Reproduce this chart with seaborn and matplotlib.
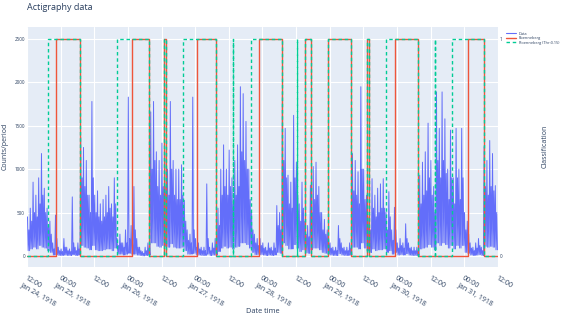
import matplotlib
matplotlib.use("Agg")
import numpy as np
import pandas as pd
import seaborn as sns
import matplotlib.pyplot as plt
from matplotlib.lines import Line2D

# ---------------- data ----------------
START = "1918-01-24 12:00"
END = "1918-01-31 12:00"

# hourly activity readings (counts per period), hour 0 = Jan 24 12:00
# main peak of each hour
activity_peaks = [
    450, 550, 850, 700, 900, 1180, 780, 550, 400, 150,
    470, 100, 80, 200, 100, 80, 680, 100, 150, 1370,
    1250, 1100, 700, 1780, 700, 750, 600, 650, 700, 800,
    600, 900, 200, 250, 150, 300, 1830, 350, 800, 200,
    100, 50, 100, 150, 1660, 1780, 1200, 1100, 1300, 1200,
    1000, 1780, 1100, 1000, 1000, 1050, 640, 300, 250, 1830,
    200, 150, 100, 100, 830, 100, 150, 200, 550, 1000,
    1280, 1000, 1220, 900, 1100, 1280, 1950, 1870, 1550, 1000,
    500, 250, 200, 200, 150, 100, 150, 100, 150, 580,
    500, 1890, 1470, 930, 850, 1620, 1080, 600, 850, 400,
    350, 815, 1030, 1080, 800, 500, 420, 300, 150, 100,
    100, 350, 150, 100, 100, 150, 1180, 1100, 970, 1950,
    1000, 700, 450, 890, 700, 780, 830, 890, 500, 740,
    300, 560, 150, 200, 150, 370, 150, 100, 100, 100,
    930, 1080, 1200, 1530, 1100, 800, 1890, 1470, 1890, 1580,
    1000, 1450, 900, 1470, 1000, 1470, 500, 400, 150, 100,
    150, 200, 100, 1260, 1100, 1330, 1180, 810,
]
# secondary peak of each hour
activity_second = [
    300, 400, 500, 450, 600, 700, 500, 350, 250, 80,
    200, 60, 50, 100, 60, 50, 150, 60, 80, 900,
    800, 700, 500, 900, 500, 450, 400, 450, 500, 550,
    450, 600, 120, 150, 100, 150, 200, 150, 300, 100,
    60, 30, 60, 90, 1000, 1100, 800, 700, 800, 800,
    700, 1000, 700, 650, 650, 700, 400, 180, 150, 300,
    100, 80, 60, 60, 200, 60, 90, 120, 350, 700,
    800, 700, 800, 600, 700, 800, 1200, 1100, 1000, 650,
    300, 150, 120, 120, 90, 60, 90, 60, 90, 350,
    300, 1100, 900, 600, 550, 900, 700, 400, 550, 250,
    220, 500, 650, 700, 500, 300, 250, 180, 90, 60,
    60, 200, 90, 60, 60, 90, 750, 700, 600, 1000,
    650, 450, 300, 550, 450, 500, 550, 550, 300, 450,
    180, 300, 90, 120, 90, 200, 90, 60, 60, 60,
    600, 700, 750, 900, 700, 500, 1100, 900, 1100, 950,
    650, 900, 600, 900, 650, 900, 300, 250, 90, 60,
    90, 120, 60, 800, 700, 800, 750, 500,
]
# troughs of each hour
activity_lows = [
    60, 80, 100, 80, 120, 100, 90, 60, 40, 10,
    15, 5, 5, 10, 5, 5, 15, 5, 10, 120,
    100, 90, 70, 120, 70, 60, 60, 70, 80, 80,
    60, 90, 20, 20, 10, 20, 30, 20, 20, 10,
    5, 0, 5, 10, 150, 150, 110, 100, 120, 110,
    100, 140, 100, 90, 90, 100, 60, 20, 20, 30,
    10, 10, 5, 5, 20, 5, 10, 10, 50, 90,
    110, 90, 100, 80, 100, 110, 150, 150, 130, 90,
    40, 15, 15, 15, 10, 5, 10, 5, 10, 40,
    30, 150, 120, 80, 80, 130, 90, 50, 70, 35,
    30, 70, 90, 90, 70, 40, 30, 20, 10, 5,
    5, 25, 10, 5, 5, 10, 100, 100, 80, 150,
    90, 60, 40, 80, 60, 70, 70, 80, 40, 60,
    20, 40, 10, 15, 10, 25, 10, 5, 5, 5,
    80, 90, 100, 130, 100, 70, 150, 120, 150, 130,
    90, 120, 80, 120, 90, 120, 40, 30, 10, 5,
    10, 15, 5, 110, 100, 110, 100, 70,
]

# sleep periods (classification = 1)
roenneberg_start = ["1918-01-24 22:22", "1918-01-26 01:24", "1918-01-26 12:54",
                    "1918-01-27 00:36", "1918-01-27 22:36", "1918-01-28 15:18",
                    "1918-01-28 23:30", "1918-01-29 13:12", "1918-01-29 23:24",
                    "1918-01-31 01:15"]
roenneberg_end = ["1918-01-25 07:00", "1918-01-26 07:36", "1918-01-26 13:45",
                  "1918-01-27 07:36", "1918-01-28 07:00", "1918-01-28 17:18",
                  "1918-01-29 07:42", "1918-01-29 14:06", "1918-01-30 07:30",
                  "1918-01-31 07:00"]
thr_start = ["1918-01-24 19:36", "1918-01-25 20:06", "1918-01-26 12:54",
             "1918-01-26 19:30", "1918-01-27 13:30", "1918-01-27 20:00",
             "1918-01-28 12:18", "1918-01-28 15:18", "1918-01-28 23:30",
             "1918-01-29 13:12", "1918-01-29 20:06", "1918-01-30 13:30",
             "1918-01-30 19:42"]
thr_end = ["1918-01-25 07:00", "1918-01-26 07:36", "1918-01-26 13:45",
           "1918-01-27 07:36", "1918-01-27 13:36", "1918-01-28 07:00",
           "1918-01-28 12:24", "1918-01-28 17:18", "1918-01-29 07:42",
           "1918-01-29 14:06", "1918-01-30 07:30", "1918-01-30 13:36",
           "1918-01-31 07:00"]

series_names = ["Data", "Roenneberg", "Roenneberg (Thr:0.15)"]

# ---------------- build tables ----------------
base = pd.Timestamp(START)
hrs = np.arange(len(activity_peaks))


def at(offset):
    return base + pd.to_timedelta(hrs + offset, unit="h")


df_act = pd.DataFrame({
    "time": np.concatenate([at(0.125), at(0.375), at(0.625), at(0.875)]),
    "count": np.concatenate([activity_peaks, activity_lows,
                             activity_second, activity_lows]),
}).sort_values("time")


def step_table(starts, ends):
    t = [pd.Timestamp(START) + pd.Timedelta(minutes=5)]
    v = [0]
    for s, e in zip(starts, ends):
        t += [pd.Timestamp(s), pd.Timestamp(e)]
        v += [1, 0]
    t.append(pd.Timestamp(END) - pd.Timedelta(minutes=5))
    v.append(0)
    return pd.DataFrame({"time": t, "cls": v})


df_r = step_table(roenneberg_start, roenneberg_end)
df_t = step_table(thr_start, thr_end)

# ---------------- style ----------------
sns.set_theme(style="darkgrid")
plt.rcParams["font.family"] = ["Open Sans", "DejaVu Sans"]
TXT = "#2a3f5f"

fig = plt.figure(figsize=(5.65, 3.14), dpi=100)
ax = fig.add_axes([0.048, 0.150, 0.833, 0.765])
ax.set_facecolor("#E5ECF6")
for s in ax.spines.values():
    s.set_visible(False)

sns.lineplot(data=df_act, x="time", y="count", ax=ax, color="#636EFA",
             lw=0.7, estimator=None, legend=False, zorder=2)

ax.set_ylim(-127, 2642)
ax.set_xlim(pd.Timestamp(START), pd.Timestamp(END))
ax.set_yticks([0, 500, 1000, 1500, 2000, 2500])
ax.set_yticklabels(["0", "500", "1000", "1500", "2000", "2500"])
ax.grid(True, color="white", lw=0.8)
ax.tick_params(axis="y", labelsize=3.3, colors=TXT, pad=1.5, length=0)

ticks = pd.date_range(START, END, freq="12h")
labels = []
for i, t in enumerate(ticks):
    if i == 0 or t.hour == 0:
        labels.append(t.strftime("%H:%M") + "\n" + t.strftime("%b %d, %Y").replace(" 0", " "))
    else:
        labels.append(t.strftime("%H:%M"))
ax.set_xticks(ticks)
ax.set_xticklabels(labels, rotation=-30, ha="left", va="top",
                   rotation_mode="anchor", fontsize=5, color=TXT,
                   multialignment="left")
ax.tick_params(axis="x", length=2.5, width=0.8, color="#EF553B", pad=3)
ax.set_xlabel("Date time", fontsize=5.3, color=TXT, labelpad=0)
ax.set_ylabel("Counts/period", fontsize=5, color=TXT, labelpad=4)

ax2 = ax.twinx()
for s in ax2.spines.values():
    s.set_visible(False)
sns.lineplot(data=df_r, x="time", y="cls", ax=ax2, color="#EF553B", lw=1.0,
             drawstyle="steps-post", estimator=None, legend=False)
sns.lineplot(data=df_t, x="time", y="cls", ax=ax2, color="#00CC96", lw=1.0,
             drawstyle="steps-post", estimator=None, legend=False,
             dashes=False, linestyle=(0, (2.5, 2)))
ax2.set_ylim(-0.0508, 1.0568)
ax2.set_yticks([0, 1])
ax2.set_yticklabels(["0", "1"])
ax2.grid(False)
ax2.tick_params(axis="y", labelsize=3.3, colors=TXT, pad=1.5, length=0)
ax2.set_ylabel("Classification", fontsize=5, color=TXT, labelpad=28)
ax2.set_xlim(pd.Timestamp(START), pd.Timestamp(END))

fig.text(0.048, 0.977, "Actigraphy data", fontsize=6.5, color=TXT,
         ha="left", va="center")

handles = [Line2D([], [], color="#636EFA", lw=0.8),
           Line2D([], [], color="#EF553B", lw=1.0),
           Line2D([], [], color="#00CC96", lw=1.0, linestyle=(0, (2.5, 2)))]
fig.legend(handles, series_names, loc="upper left",
           bbox_to_anchor=(0.893, 0.905), frameon=False, fontsize=2.8,
           handlelength=2.5, handletextpad=0.6, labelspacing=0.1,
           borderpad=0, labelcolor=TXT)

fig.savefig("out.png", dpi=100)
